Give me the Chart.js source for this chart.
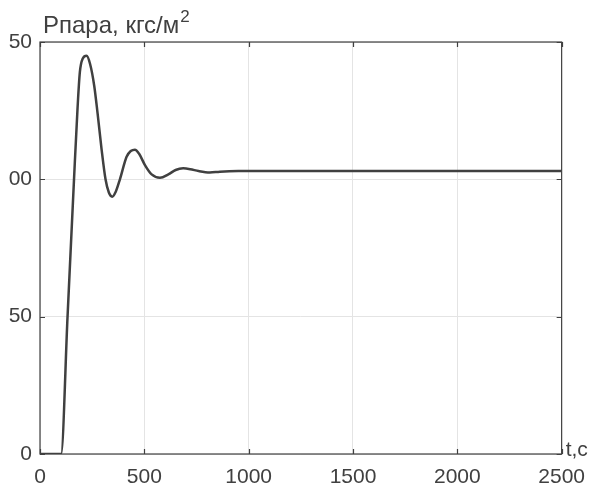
<!DOCTYPE html>
<html>
<head>
<meta charset="utf-8">
<script src="https://cdn.jsdelivr.net/npm/chart.js@4/dist/chart.umd.min.js"></script>
<style>
  html, body { margin: 0; padding: 0; background: #fff; }
  #wrap { width: 596px; height: 491px; }
</style>
</head>
<body>
<div id="wrap"><canvas id="pressure"></canvas></div>
<script>
// transient of steam pressure after step input
var times  = [0, 101, 132, 163, 180, 191, 205, 223, 240, 260, 276, 295, 314, 330, 346, 363, 383, 415, 435, 455, 475, 503, 535, 575, 615, 650, 686, 720, 760, 814, 862, 950, 1100, 1500, 2000, 2500];
var values = [0, 0, 50, 100, 126, 139, 144, 145, 142, 134, 124, 111, 100, 95.2, 93.7, 95.5, 100, 108.2, 110.3, 110.8, 109.3, 105.2, 101.8, 100.6, 101.8, 103.4, 104, 103.7, 103, 102.5, 102.8, 103, 103, 103, 103, 103];

var xTicks = [0, 500, 1000, 1500, 2000, 2500];
var yTicks = [0, 50, 100, 150];
var yTickLabels = ['0', '50', '00', '50'];

var axisTitle = 'Рпара, кгс/м';
var axisTitleSup = '2';
var timeLabel = 't,c';

var ink = '#404040';
var FONT = '"Liberation Sans", Arial, sans-serif';

var points = times.map(function(t, i) { return {x: t, y: values[i]}; });

// frame box, inward ticks and the axis captions
var frameAndTicks = {
  id: 'frameAndTicks',
  afterDraw: function(chart) {
    var ctx = chart.ctx, a = chart.chartArea;
    var xs = chart.scales.x, ys = chart.scales.y;
    ctx.save();
    ctx.strokeStyle = ink;
    ctx.lineWidth = 1.2;
    ctx.strokeRect(a.left, a.top, a.right - a.left, a.bottom - a.top);
    ctx.beginPath();
    xTicks.forEach(function(v) {
      var px = Math.round(xs.getPixelForValue(v)) + 0.5;
      ctx.moveTo(px, a.bottom); ctx.lineTo(px, a.bottom - 5);
      ctx.moveTo(px, a.top); ctx.lineTo(px, a.top + 5);
    });
    yTicks.forEach(function(v) {
      var py = Math.round(ys.getPixelForValue(v)) + 0.5;
      ctx.moveTo(a.left, py); ctx.lineTo(a.left + 5, py);
      ctx.moveTo(a.right, py); ctx.lineTo(a.right - 5, py);
    });
    ctx.stroke();

    ctx.fillStyle = ink;
    ctx.textBaseline = 'alphabetic';
    ctx.textAlign = 'left';
    ctx.font = '24px ' + FONT;
    ctx.fillText(axisTitle, a.left + 3, 33);
    var w = ctx.measureText(axisTitle).width;
    ctx.font = '17px ' + FONT;
    ctx.fillText(axisTitleSup, a.left + 3 + w + 1, 22);
    ctx.font = '21px ' + FONT;
    ctx.fillText(timeLabel, a.right + 4, a.bottom + 2);
    ctx.restore();
  }
};

new Chart(document.getElementById('pressure'), {
  type: 'line',
  data: {
    datasets: [{
      data: points,
      borderColor: ink,
      borderWidth: 2.5,
      pointRadius: 0,
      fill: false,
      cubicInterpolationMode: 'monotone'
    }]
  },
  options: {
    responsive: true,
    maintainAspectRatio: false,
    animation: false,
    layout: { padding: { top: 42, right: 34, left: 0, bottom: 0 } },
    plugins: { legend: { display: false }, tooltip: { enabled: false } },
    scales: {
      x: {
        type: 'linear',
        min: 0, max: 2500,
        afterBuildTicks: function(s) { s.ticks = xTicks.map(function(v) { return {value: v}; }); },
        afterFit: function(s) { s.height = 37; },
        grid: { color: '#e4e4e4', drawTicks: false },
        border: { display: false },
        ticks: {
          color: ink, font: { family: FONT, size: 21 }, padding: 11, maxRotation: 0, autoSkip: false,
          callback: function(v) { return String(v); }
        }
      },
      y: {
        min: 0, max: 150,
        afterBuildTicks: function(s) { s.ticks = yTicks.map(function(v) { return {value: v}; }); },
        afterFit: function(s) { s.width = 40; },
        grid: { color: '#e4e4e4', drawTicks: false },
        border: { display: false },
        ticks: {
          color: ink, font: { family: FONT, size: 21 }, padding: 8, autoSkip: false,
          callback: function(v) { return yTickLabels[yTicks.indexOf(v)]; }
        }
      }
    }
  },
  plugins: [frameAndTicks]
});
</script>
</body>
</html>
